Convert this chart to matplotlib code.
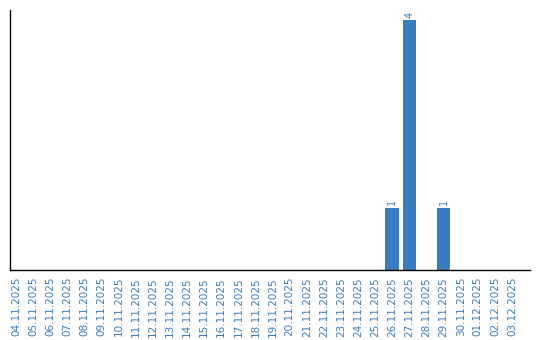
import datetime as dt
import matplotlib
matplotlib.use("Agg")
import matplotlib.pyplot as plt

start = dt.date(2025, 11, 4)
dates = [(start + dt.timedelta(days=i)).strftime("%d.%m.%Y") for i in range(30)]
counts = [0] * 30
counts[dates.index("26.11.2025")] = 1
counts[dates.index("27.11.2025")] = 4
counts[dates.index("29.11.2025")] = 1

blue = "#3a7cc1"

fig = plt.figure(figsize=(5.4, 3.4), dpi=100)
ax = fig.add_axes([10 / 540, 70 / 340, 520 / 540, 260 / 340])

x = list(range(len(dates)))
bars = ax.bar(x, counts, width=0.8, color=blue)
for xi, c in zip(x, counts):
    if c > 0:
        ax.text(xi, c + 0.04, str(c), rotation=90, ha="center", va="bottom",
                fontsize=7, color=blue)

ax.set_xlim(-0.35, 30.05)
ax.set_ylim(0, 4.16)
ax.set_xticks(x)
ax.set_xticklabels(dates, rotation=90, fontsize=7.5, color=blue)
ax.tick_params(axis="x", length=0, pad=5)
ax.set_yticks([])
ax.spines["top"].set_visible(False)
ax.spines["right"].set_visible(False)
ax.spines["left"].set_linewidth(1.0)
ax.spines["bottom"].set_linewidth(1.0)

fig.savefig("out.png", dpi=100)
